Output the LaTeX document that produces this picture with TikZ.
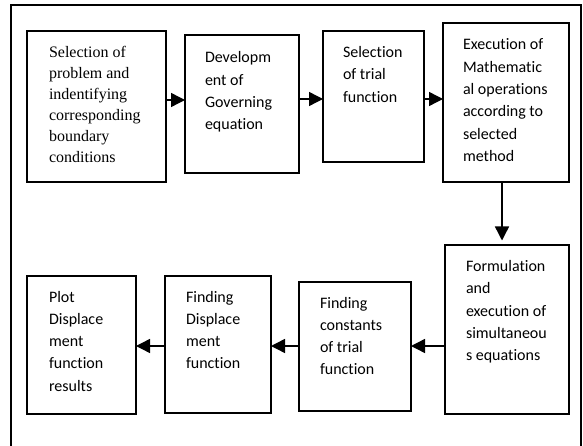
\documentclass[tikz,border=0pt]{standalone}
\usepackage{fontspec}
\setmainfont{Carlito}[Ligatures=NoCommon]
\newfontfamily\timesfont{Liberation Serif}
\usetikzlibrary{arrows.meta}
\newcommand{\clbtext}[1]{\parbox[t]{160pt}{\raggedright\fontsize{16}{22.3}\selectfont #1}}
\newcommand{\tmstext}[1]{\parbox[t]{160pt}{\raggedright\fontsize{16}{21}\timesfont #1}}
\begin{document}
\begin{tikzpicture}[x=1pt,y=-1pt,
  box/.style={draw, line width=1.5pt, inner sep=0pt, outer sep=0pt, anchor=north west},
  txt/.style={inner sep=0pt, outer sep=0pt, anchor=base west},
  arr/.style={line width=1.4pt, -{Triangle[length=14pt,width=14pt]}},
  frame/.style={line width=1.3pt}]
\useasboundingbox (0,0) rectangle (583,446);
% frame
\coordinate (f1) at (11,446);
\coordinate (f2) at (11,5);
\coordinate (f3) at (581,5);
\coordinate (f4) at (581,446);
\draw[frame] (f1) -- (f2) -- (f3) -- (f4);
% boxes
\node[box, minimum width=139pt, minimum height=151pt] (b1) at (27,31) {};
\node[box, minimum width=114pt, minimum height=138pt] (b2) at (185,35) {};
\node[box, minimum width=101pt, minimum height=131pt] (b3) at (323,31) {};
\node[box, minimum width=126pt, minimum height=159pt] (b4) at (443,23) {};
\node[box, minimum width=124pt, minimum height=169pt] (b5) at (445,245) {};
\node[box, minimum width=112pt, minimum height=129pt] (b6) at (299,282) {};
\node[box, minimum width=106pt, minimum height=137pt] (b7) at (165,276) {};
\node[box, minimum width=109pt, minimum height=138pt] (b8) at (27,276) {};
% texts
\node[txt] (t1) at (49,57.5) {\tmstext{Selection of\\problem and\\indentifying\\corresponding\\boundary\\conditions}};
\node[txt] (t2) at (205,63) {\clbtext{Developm\\ent of\\Governing\\equation}};
\node[txt] (t3) at (343,57.5) {\clbtext{Selection\\of trial\\function}};
\node[txt] (t4) at (463,50) {\clbtext{Execution of\\Mathematic\\al operations\\according to\\selected\\method}};
\node[txt] (t5) at (466,271.5) {\clbtext{Formulation\\and\\execution of\\simultaneou\\s equations}};
\node[txt] (t6) at (320,308) {\clbtext{Finding\\constants\\of trial\\function}};
\node[txt] (t7) at (186,302) {\clbtext{Finding\\Displace\\ment\\function}};
\node[txt] (t8) at (49,302) {\clbtext{Plot\\Displace\\ment\\function\\results}};
% connectors
\coordinate (r1) at (0,100);
\coordinate (r2) at (0,99);
\coordinate (r3) at (502,0);
\coordinate (r4) at (0,346);
\draw[arr] (b1.east |- r1) -- (b2.west |- r1);
\draw[arr] (b2.east |- r2) -- (b3.west |- r2);
\draw[arr] (b3.east |- r2) -- (b4.west |- r2);
\draw[arr, shorten >=4.5pt] (b4.south -| r3) -- (b5.north -| r3);
\draw[arr] (b5.west |- r4) -- (b6.east |- r4);
\draw[arr] (b6.west |- r4) -- (b7.east |- r4);
\draw[arr] (b7.west |- r4) -- (b8.east |- r4);
\end{tikzpicture}
\end{document}
